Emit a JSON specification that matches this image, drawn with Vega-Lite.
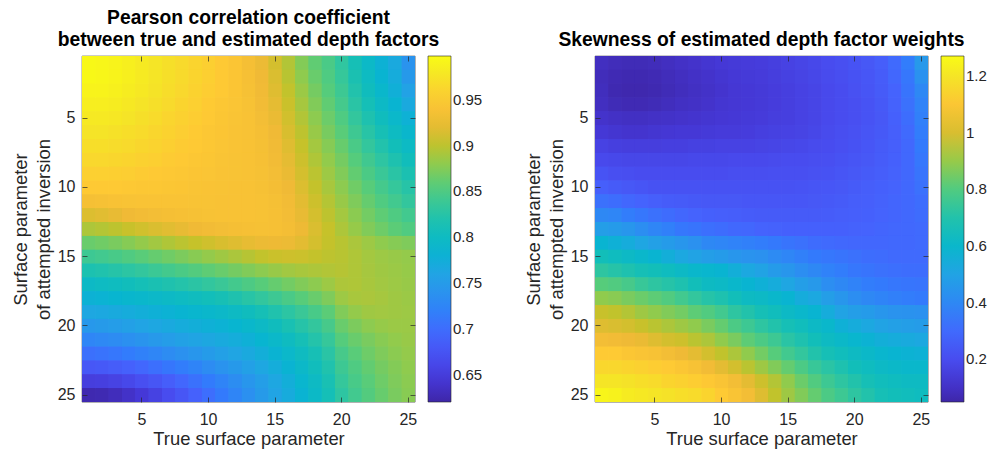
{
"$schema":"https://vega.github.io/schema/vega-lite/v6.json",
"autosize":{"type":"none"},
"padding":{"left":82,"top":56,"right":911,"bottom":394},
"bounds":"flush",
"spacing":180,
"resolve":{"scale":{"color":"independent"},"legend":{"color":"independent"}},
"config":{
"font":"Liberation Sans",
"view":{"stroke":"#262626","strokeWidth":0.6},
"axis":{"labelFont":"Liberation Sans","labelFontSize":16,"labelColor":"#262626","titleFont":"Liberation Sans","titleFontSize":18.4,"titleFontWeight":"normal","titleColor":"#262626","titleLineHeight":23,"grid":false,"domain":false,"tickColor":"#262626","tickSize":-5,"tickWidth":0.7},
"legend":{"labelFont":"Liberation Sans","labelFontSize":15,"labelColor":"#262626","labelOffset":6,"gradientLength":346,"gradientThickness":23,"gradientStrokeColor":"#262626","gradientStrokeWidth":0.6,"offset":12,"padding":0,"labelOverlap":false},
"title":{"font":"Liberation Sans","fontSize":19.3,"fontWeight":"bold","color":"#000000","lineHeight":22.5,"offset":5,"anchor":"middle","frame":"group"}
},
"hconcat":[
{
"width":333,"height":346,
"data":{"name":"pc"},
"title":{"text":["Pearson correlation coefficient","between true and estimated depth factors"]},
"layer":[
{"mark":{"type":"rect"},
"encoding":{
"x":{"field":"x","type":"ordinal","scale":{"paddingInner":0,"paddingOuter":0},"axis":{"values":[5,10,15,20,25],"labelAngle":0,"title":"True surface parameter","labelPadding":14,"titlePadding":2}},
"y":{"field":"y","type":"ordinal","scale":{"paddingInner":0,"paddingOuter":0},"axis":{"values":[5,10,15,20,25],"title":["Surface parameter","of attempted inversion"],"labelPadding":12,"titlePadding":4}},
"color":{"field":"v","type":"quantitative","scale":{"domain":[0.62,0.643625,0.66725,0.690875,0.7145,0.738125,0.76175,0.785375,0.809,0.832625,0.85625,0.879875,0.9035,0.927125,0.95075,0.974375,0.998],"range":["#3E26A8","#4537D5","#484DF0","#4563FD","#327CFC","#2B91EF","#20A5E3","#08B5D0","#12BEB9","#31C69F","#57CC7A","#8FCB4E","#C5C22A","#F0BA36","#FEC934","#F5E327","#F9FB15"],"interpolate":"rgb"},"legend":{"title":null,"type":"gradient","values":[0.65,0.7,0.75,0.8,0.85,0.9,0.95],"format":"~g","direction":"vertical","orient":"right"}}
}},
{"mark":{"type":"rect"},
"encoding":{
"x":{"field":"x","type":"ordinal","axis":{"values":[5,10,15,20,25],"labels":false,"title":null}},
"y":{"field":"y","type":"ordinal","axis":{"values":[5,10,15,20,25],"labels":false,"title":null}},
"color":{"field":"v","type":"quantitative","legend":{"title":null,"type":"gradient","values":[0.65,0.7,0.75,0.8,0.85,0.9,0.95],"format":"~g","direction":"vertical","orient":"right"}}
}},
{"mark":{"type":"rect"},
"encoding":{
"x":{"field":"x","type":"ordinal","axis":null},
"y":{"field":"y","type":"ordinal","axis":null},
"color":{"field":"v","type":"quantitative","legend":{"title":null,"type":"gradient","values":[0.65,0.7,0.75,0.8,0.85,0.9,0.95],"format":"~g","direction":"vertical","orient":"right"}}
}}
],
"resolve":{"axis":{"x":"independent","y":"independent"}}
},
{
"width":333,"height":346,
"data":{"name":"sk"},
"title":{"text":"Skewness of estimated depth factor weights"},
"layer":[
{"mark":{"type":"rect"},
"encoding":{
"x":{"field":"x","type":"ordinal","scale":{"paddingInner":0,"paddingOuter":0},"axis":{"values":[5,10,15,20,25],"labelAngle":0,"title":"True surface parameter","labelPadding":14,"titlePadding":2}},
"y":{"field":"y","type":"ordinal","scale":{"paddingInner":0,"paddingOuter":0},"axis":{"values":[5,10,15,20,25],"title":["Surface parameter","of attempted inversion"],"labelPadding":12,"titlePadding":4}},
"color":{"field":"v","type":"quantitative","scale":{"domain":[0.05,0.12625,0.2025,0.27875,0.355,0.43125,0.5075,0.58375,0.66,0.73625,0.8125,0.88875,0.965,1.04125,1.1175,1.19375,1.27],"range":["#3E26A8","#4537D5","#484DF0","#4563FD","#327CFC","#2B91EF","#20A5E3","#08B5D0","#12BEB9","#31C69F","#57CC7A","#8FCB4E","#C5C22A","#F0BA36","#FEC934","#F5E327","#F9FB15"],"interpolate":"rgb"},"legend":{"title":null,"type":"gradient","values":[0.2,0.4,0.6,0.8,1,1.2],"format":"~g","direction":"vertical","orient":"right"}}
}},
{"mark":{"type":"rect"},
"encoding":{
"x":{"field":"x","type":"ordinal","axis":{"values":[5,10,15,20,25],"labels":false,"title":null}},
"y":{"field":"y","type":"ordinal","axis":{"values":[5,10,15,20,25],"labels":false,"title":null}},
"color":{"field":"v","type":"quantitative","legend":{"title":null,"type":"gradient","values":[0.2,0.4,0.6,0.8,1,1.2],"format":"~g","direction":"vertical","orient":"right"}}
}},
{"mark":{"type":"rect"},
"encoding":{
"x":{"field":"x","type":"ordinal","axis":null},
"y":{"field":"y","type":"ordinal","axis":null},
"color":{"field":"v","type":"quantitative","legend":{"title":null,"type":"gradient","values":[0.2,0.4,0.6,0.8,1,1.2],"format":"~g","direction":"vertical","orient":"right"}}
}}
],
"resolve":{"axis":{"x":"independent","y":"independent"}}
}
],
"datasets":{
"pc":[
{"x":1,"y":1,"v":0.995},{"x":2,"y":1,"v":0.993},{"x":3,"y":1,"v":0.99},{"x":4,"y":1,"v":0.986},{"x":5,"y":1,"v":0.981},{"x":6,"y":1,"v":0.976},{"x":7,"y":1,"v":0.971},{"x":8,"y":1,"v":0.966},{"x":9,"y":1,"v":0.961},{"x":10,"y":1,"v":0.956},{"x":11,"y":1,"v":0.951},{"x":12,"y":1,"v":0.945},{"x":13,"y":1,"v":0.935},{"x":14,"y":1,"v":0.925},{"x":15,"y":1,"v":0.912},{"x":16,"y":1,"v":0.895},{"x":17,"y":1,"v":0.875},{"x":18,"y":1,"v":0.86},{"x":19,"y":1,"v":0.848},{"x":20,"y":1,"v":0.832},{"x":21,"y":1,"v":0.812},{"x":22,"y":1,"v":0.795},{"x":23,"y":1,"v":0.78},{"x":24,"y":1,"v":0.768},{"x":25,"y":1,"v":0.74},
{"x":1,"y":2,"v":0.995},{"x":2,"y":2,"v":0.993},{"x":3,"y":2,"v":0.99},{"x":4,"y":2,"v":0.986},{"x":5,"y":2,"v":0.981},{"x":6,"y":2,"v":0.976},{"x":7,"y":2,"v":0.971},{"x":8,"y":2,"v":0.966},{"x":9,"y":2,"v":0.961},{"x":10,"y":2,"v":0.956},{"x":11,"y":2,"v":0.951},{"x":12,"y":2,"v":0.945},{"x":13,"y":2,"v":0.937},{"x":14,"y":2,"v":0.927},{"x":15,"y":2,"v":0.915},{"x":16,"y":2,"v":0.898},{"x":17,"y":2,"v":0.88},{"x":18,"y":2,"v":0.864},{"x":19,"y":2,"v":0.851},{"x":20,"y":2,"v":0.836},{"x":21,"y":2,"v":0.816},{"x":22,"y":2,"v":0.8},{"x":23,"y":2,"v":0.784},{"x":24,"y":2,"v":0.772},{"x":25,"y":2,"v":0.748},
{"x":1,"y":3,"v":0.99},{"x":2,"y":3,"v":0.99},{"x":3,"y":3,"v":0.987},{"x":4,"y":3,"v":0.983},{"x":5,"y":3,"v":0.979},{"x":6,"y":3,"v":0.974},{"x":7,"y":3,"v":0.969},{"x":8,"y":3,"v":0.964},{"x":9,"y":3,"v":0.959},{"x":10,"y":3,"v":0.954},{"x":11,"y":3,"v":0.95},{"x":12,"y":3,"v":0.945},{"x":13,"y":3,"v":0.938},{"x":14,"y":3,"v":0.929},{"x":15,"y":3,"v":0.918},{"x":16,"y":3,"v":0.902},{"x":17,"y":3,"v":0.885},{"x":18,"y":3,"v":0.869},{"x":19,"y":3,"v":0.855},{"x":20,"y":3,"v":0.84},{"x":21,"y":3,"v":0.821},{"x":22,"y":3,"v":0.805},{"x":23,"y":3,"v":0.79},{"x":24,"y":3,"v":0.777},{"x":25,"y":3,"v":0.758},
{"x":1,"y":4,"v":0.985},{"x":2,"y":4,"v":0.985},{"x":3,"y":4,"v":0.983},{"x":4,"y":4,"v":0.979},{"x":5,"y":4,"v":0.975},{"x":6,"y":4,"v":0.971},{"x":7,"y":4,"v":0.966},{"x":8,"y":4,"v":0.961},{"x":9,"y":4,"v":0.957},{"x":10,"y":4,"v":0.952},{"x":11,"y":4,"v":0.948},{"x":12,"y":4,"v":0.944},{"x":13,"y":4,"v":0.939},{"x":14,"y":4,"v":0.931},{"x":15,"y":4,"v":0.921},{"x":16,"y":4,"v":0.906},{"x":17,"y":4,"v":0.89},{"x":18,"y":4,"v":0.874},{"x":19,"y":4,"v":0.86},{"x":20,"y":4,"v":0.845},{"x":21,"y":4,"v":0.827},{"x":22,"y":4,"v":0.811},{"x":23,"y":4,"v":0.797},{"x":24,"y":4,"v":0.784},{"x":25,"y":4,"v":0.768},
{"x":1,"y":5,"v":0.98},{"x":2,"y":5,"v":0.98},{"x":3,"y":5,"v":0.978},{"x":4,"y":5,"v":0.975},{"x":5,"y":5,"v":0.971},{"x":6,"y":5,"v":0.967},{"x":7,"y":5,"v":0.962},{"x":8,"y":5,"v":0.958},{"x":9,"y":5,"v":0.954},{"x":10,"y":5,"v":0.95},{"x":11,"y":5,"v":0.946},{"x":12,"y":5,"v":0.943},{"x":13,"y":5,"v":0.94},{"x":14,"y":5,"v":0.933},{"x":15,"y":5,"v":0.924},{"x":16,"y":5,"v":0.91},{"x":17,"y":5,"v":0.895},{"x":18,"y":5,"v":0.879},{"x":19,"y":5,"v":0.865},{"x":20,"y":5,"v":0.851},{"x":21,"y":5,"v":0.834},{"x":22,"y":5,"v":0.818},{"x":23,"y":5,"v":0.805},{"x":24,"y":5,"v":0.792},{"x":25,"y":5,"v":0.779},
{"x":1,"y":6,"v":0.975},{"x":2,"y":6,"v":0.975},{"x":3,"y":6,"v":0.973},{"x":4,"y":6,"v":0.97},{"x":5,"y":6,"v":0.967},{"x":6,"y":6,"v":0.963},{"x":7,"y":6,"v":0.959},{"x":8,"y":6,"v":0.955},{"x":9,"y":6,"v":0.952},{"x":10,"y":6,"v":0.948},{"x":11,"y":6,"v":0.945},{"x":12,"y":6,"v":0.942},{"x":13,"y":6,"v":0.94},{"x":14,"y":6,"v":0.935},{"x":15,"y":6,"v":0.927},{"x":16,"y":6,"v":0.914},{"x":17,"y":6,"v":0.9},{"x":18,"y":6,"v":0.884},{"x":19,"y":6,"v":0.87},{"x":20,"y":6,"v":0.857},{"x":21,"y":6,"v":0.841},{"x":22,"y":6,"v":0.826},{"x":23,"y":6,"v":0.813},{"x":24,"y":6,"v":0.8},{"x":25,"y":6,"v":0.789},
{"x":1,"y":7,"v":0.97},{"x":2,"y":7,"v":0.97},{"x":3,"y":7,"v":0.968},{"x":4,"y":7,"v":0.966},{"x":5,"y":7,"v":0.963},{"x":6,"y":7,"v":0.96},{"x":7,"y":7,"v":0.956},{"x":8,"y":7,"v":0.953},{"x":9,"y":7,"v":0.95},{"x":10,"y":7,"v":0.947},{"x":11,"y":7,"v":0.944},{"x":12,"y":7,"v":0.942},{"x":13,"y":7,"v":0.94},{"x":14,"y":7,"v":0.936},{"x":15,"y":7,"v":0.929},{"x":16,"y":7,"v":0.918},{"x":17,"y":7,"v":0.904},{"x":18,"y":7,"v":0.889},{"x":19,"y":7,"v":0.876},{"x":20,"y":7,"v":0.863},{"x":21,"y":7,"v":0.848},{"x":22,"y":7,"v":0.834},{"x":23,"y":7,"v":0.821},{"x":24,"y":7,"v":0.809},{"x":25,"y":7,"v":0.798},
{"x":1,"y":8,"v":0.964},{"x":2,"y":8,"v":0.964},{"x":3,"y":8,"v":0.963},{"x":4,"y":8,"v":0.961},{"x":5,"y":8,"v":0.958},{"x":6,"y":8,"v":0.956},{"x":7,"y":8,"v":0.953},{"x":8,"y":8,"v":0.95},{"x":9,"y":8,"v":0.948},{"x":10,"y":8,"v":0.946},{"x":11,"y":8,"v":0.943},{"x":12,"y":8,"v":0.941},{"x":13,"y":8,"v":0.94},{"x":14,"y":8,"v":0.937},{"x":15,"y":8,"v":0.931},{"x":16,"y":8,"v":0.921},{"x":17,"y":8,"v":0.908},{"x":18,"y":8,"v":0.894},{"x":19,"y":8,"v":0.881},{"x":20,"y":8,"v":0.869},{"x":21,"y":8,"v":0.855},{"x":22,"y":8,"v":0.842},{"x":23,"y":8,"v":0.83},{"x":24,"y":8,"v":0.818},{"x":25,"y":8,"v":0.807},
{"x":1,"y":9,"v":0.957},{"x":2,"y":9,"v":0.957},{"x":3,"y":9,"v":0.956},{"x":4,"y":9,"v":0.955},{"x":5,"y":9,"v":0.953},{"x":6,"y":9,"v":0.951},{"x":7,"y":9,"v":0.949},{"x":8,"y":9,"v":0.947},{"x":9,"y":9,"v":0.945},{"x":10,"y":9,"v":0.944},{"x":11,"y":9,"v":0.942},{"x":12,"y":9,"v":0.941},{"x":13,"y":9,"v":0.94},{"x":14,"y":9,"v":0.938},{"x":15,"y":9,"v":0.933},{"x":16,"y":9,"v":0.924},{"x":17,"y":9,"v":0.912},{"x":18,"y":9,"v":0.899},{"x":19,"y":9,"v":0.886},{"x":20,"y":9,"v":0.874},{"x":21,"y":9,"v":0.861},{"x":22,"y":9,"v":0.849},{"x":23,"y":9,"v":0.838},{"x":24,"y":9,"v":0.827},{"x":25,"y":9,"v":0.816},
{"x":1,"y":10,"v":0.95},{"x":2,"y":10,"v":0.95},{"x":3,"y":10,"v":0.95},{"x":4,"y":10,"v":0.949},{"x":5,"y":10,"v":0.948},{"x":6,"y":10,"v":0.947},{"x":7,"y":10,"v":0.946},{"x":8,"y":10,"v":0.945},{"x":9,"y":10,"v":0.943},{"x":10,"y":10,"v":0.942},{"x":11,"y":10,"v":0.941},{"x":12,"y":10,"v":0.94},{"x":13,"y":10,"v":0.94},{"x":14,"y":10,"v":0.938},{"x":15,"y":10,"v":0.934},{"x":16,"y":10,"v":0.927},{"x":17,"y":10,"v":0.916},{"x":18,"y":10,"v":0.903},{"x":19,"y":10,"v":0.891},{"x":20,"y":10,"v":0.879},{"x":21,"y":10,"v":0.867},{"x":22,"y":10,"v":0.856},{"x":23,"y":10,"v":0.845},{"x":24,"y":10,"v":0.835},{"x":25,"y":10,"v":0.825},
{"x":1,"y":11,"v":0.936},{"x":2,"y":11,"v":0.938},{"x":3,"y":11,"v":0.94},{"x":4,"y":11,"v":0.941},{"x":5,"y":11,"v":0.942},{"x":6,"y":11,"v":0.942},{"x":7,"y":11,"v":0.942},{"x":8,"y":11,"v":0.942},{"x":9,"y":11,"v":0.941},{"x":10,"y":11,"v":0.941},{"x":11,"y":11,"v":0.94},{"x":12,"y":11,"v":0.94},{"x":13,"y":11,"v":0.94},{"x":14,"y":11,"v":0.939},{"x":15,"y":11,"v":0.936},{"x":16,"y":11,"v":0.93},{"x":17,"y":11,"v":0.92},{"x":18,"y":11,"v":0.908},{"x":19,"y":11,"v":0.896},{"x":20,"y":11,"v":0.884},{"x":21,"y":11,"v":0.873},{"x":22,"y":11,"v":0.862},{"x":23,"y":11,"v":0.852},{"x":24,"y":11,"v":0.843},{"x":25,"y":11,"v":0.834},
{"x":1,"y":12,"v":0.916},{"x":2,"y":12,"v":0.919},{"x":3,"y":12,"v":0.923},{"x":4,"y":12,"v":0.927},{"x":5,"y":12,"v":0.93},{"x":6,"y":12,"v":0.933},{"x":7,"y":12,"v":0.935},{"x":8,"y":12,"v":0.937},{"x":9,"y":12,"v":0.938},{"x":10,"y":12,"v":0.939},{"x":11,"y":12,"v":0.94},{"x":12,"y":12,"v":0.94},{"x":13,"y":12,"v":0.94},{"x":14,"y":12,"v":0.939},{"x":15,"y":12,"v":0.937},{"x":16,"y":12,"v":0.932},{"x":17,"y":12,"v":0.923},{"x":18,"y":12,"v":0.912},{"x":19,"y":12,"v":0.9},{"x":20,"y":12,"v":0.889},{"x":21,"y":12,"v":0.878},{"x":22,"y":12,"v":0.868},{"x":23,"y":12,"v":0.859},{"x":24,"y":12,"v":0.851},{"x":25,"y":12,"v":0.843},
{"x":1,"y":13,"v":0.893},{"x":2,"y":13,"v":0.896},{"x":3,"y":13,"v":0.9},{"x":4,"y":13,"v":0.905},{"x":5,"y":13,"v":0.91},{"x":6,"y":13,"v":0.915},{"x":7,"y":13,"v":0.919},{"x":8,"y":13,"v":0.923},{"x":9,"y":13,"v":0.927},{"x":10,"y":13,"v":0.93},{"x":11,"y":13,"v":0.933},{"x":12,"y":13,"v":0.935},{"x":13,"y":13,"v":0.937},{"x":14,"y":13,"v":0.938},{"x":15,"y":13,"v":0.937},{"x":16,"y":13,"v":0.934},{"x":17,"y":13,"v":0.926},{"x":18,"y":13,"v":0.915},{"x":19,"y":13,"v":0.904},{"x":20,"y":13,"v":0.893},{"x":21,"y":13,"v":0.883},{"x":22,"y":13,"v":0.874},{"x":23,"y":13,"v":0.866},{"x":24,"y":13,"v":0.858},{"x":25,"y":13,"v":0.852},
{"x":1,"y":14,"v":0.864},{"x":2,"y":14,"v":0.867},{"x":3,"y":14,"v":0.871},{"x":4,"y":14,"v":0.876},{"x":5,"y":14,"v":0.882},{"x":6,"y":14,"v":0.888},{"x":7,"y":14,"v":0.894},{"x":8,"y":14,"v":0.899},{"x":9,"y":14,"v":0.904},{"x":10,"y":14,"v":0.909},{"x":11,"y":14,"v":0.914},{"x":12,"y":14,"v":0.918},{"x":13,"y":14,"v":0.922},{"x":14,"y":14,"v":0.925},{"x":15,"y":14,"v":0.926},{"x":16,"y":14,"v":0.925},{"x":17,"y":14,"v":0.92},{"x":18,"y":14,"v":0.912},{"x":19,"y":14,"v":0.903},{"x":20,"y":14,"v":0.898},{"x":21,"y":14,"v":0.892},{"x":22,"y":14,"v":0.886},{"x":23,"y":14,"v":0.88},{"x":24,"y":14,"v":0.876},{"x":25,"y":14,"v":0.873},
{"x":1,"y":15,"v":0.84},{"x":2,"y":15,"v":0.843},{"x":3,"y":15,"v":0.847},{"x":4,"y":15,"v":0.852},{"x":5,"y":15,"v":0.857},{"x":6,"y":15,"v":0.862},{"x":7,"y":15,"v":0.867},{"x":8,"y":15,"v":0.872},{"x":9,"y":15,"v":0.877},{"x":10,"y":15,"v":0.882},{"x":11,"y":15,"v":0.887},{"x":12,"y":15,"v":0.892},{"x":13,"y":15,"v":0.897},{"x":14,"y":15,"v":0.902},{"x":15,"y":15,"v":0.906},{"x":16,"y":15,"v":0.908},{"x":17,"y":15,"v":0.907},{"x":18,"y":15,"v":0.903},{"x":19,"y":15,"v":0.9},{"x":20,"y":15,"v":0.898},{"x":21,"y":15,"v":0.894},{"x":22,"y":15,"v":0.889},{"x":23,"y":15,"v":0.886},{"x":24,"y":15,"v":0.884},{"x":25,"y":15,"v":0.882},
{"x":1,"y":16,"v":0.817},{"x":2,"y":16,"v":0.82},{"x":3,"y":16,"v":0.824},{"x":4,"y":16,"v":0.829},{"x":5,"y":16,"v":0.834},{"x":6,"y":16,"v":0.839},{"x":7,"y":16,"v":0.844},{"x":8,"y":16,"v":0.849},{"x":9,"y":16,"v":0.854},{"x":10,"y":16,"v":0.859},{"x":11,"y":16,"v":0.864},{"x":12,"y":16,"v":0.869},{"x":13,"y":16,"v":0.874},{"x":14,"y":16,"v":0.879},{"x":15,"y":16,"v":0.884},{"x":16,"y":16,"v":0.888},{"x":17,"y":16,"v":0.891},{"x":18,"y":16,"v":0.893},{"x":19,"y":16,"v":0.895},{"x":20,"y":16,"v":0.897},{"x":21,"y":16,"v":0.894},{"x":22,"y":16,"v":0.89},{"x":23,"y":16,"v":0.887},{"x":24,"y":16,"v":0.885},{"x":25,"y":16,"v":0.883},
{"x":1,"y":17,"v":0.797},{"x":2,"y":17,"v":0.8},{"x":3,"y":17,"v":0.803},{"x":4,"y":17,"v":0.807},{"x":5,"y":17,"v":0.811},{"x":6,"y":17,"v":0.815},{"x":7,"y":17,"v":0.819},{"x":8,"y":17,"v":0.823},{"x":9,"y":17,"v":0.828},{"x":10,"y":17,"v":0.833},{"x":11,"y":17,"v":0.838},{"x":12,"y":17,"v":0.844},{"x":13,"y":17,"v":0.85},{"x":14,"y":17,"v":0.856},{"x":15,"y":17,"v":0.862},{"x":16,"y":17,"v":0.868},{"x":17,"y":17,"v":0.874},{"x":18,"y":17,"v":0.879},{"x":19,"y":17,"v":0.886},{"x":20,"y":17,"v":0.893},{"x":21,"y":17,"v":0.894},{"x":22,"y":17,"v":0.891},{"x":23,"y":17,"v":0.888},{"x":24,"y":17,"v":0.886},{"x":25,"y":17,"v":0.884},
{"x":1,"y":18,"v":0.78},{"x":2,"y":18,"v":0.782},{"x":3,"y":18,"v":0.785},{"x":4,"y":18,"v":0.788},{"x":5,"y":18,"v":0.791},{"x":6,"y":18,"v":0.794},{"x":7,"y":18,"v":0.797},{"x":8,"y":18,"v":0.8},{"x":9,"y":18,"v":0.804},{"x":10,"y":18,"v":0.808},{"x":11,"y":18,"v":0.813},{"x":12,"y":18,"v":0.819},{"x":13,"y":18,"v":0.826},{"x":14,"y":18,"v":0.833},{"x":15,"y":18,"v":0.84},{"x":16,"y":18,"v":0.848},{"x":17,"y":18,"v":0.856},{"x":18,"y":18,"v":0.864},{"x":19,"y":18,"v":0.873},{"x":20,"y":18,"v":0.886},{"x":21,"y":18,"v":0.891},{"x":22,"y":18,"v":0.892},{"x":23,"y":18,"v":0.89},{"x":24,"y":18,"v":0.887},{"x":25,"y":18,"v":0.885},
{"x":1,"y":19,"v":0.764},{"x":2,"y":19,"v":0.766},{"x":3,"y":19,"v":0.769},{"x":4,"y":19,"v":0.772},{"x":5,"y":19,"v":0.775},{"x":6,"y":19,"v":0.778},{"x":7,"y":19,"v":0.781},{"x":8,"y":19,"v":0.784},{"x":9,"y":19,"v":0.787},{"x":10,"y":19,"v":0.79},{"x":11,"y":19,"v":0.794},{"x":12,"y":19,"v":0.799},{"x":13,"y":19,"v":0.805},{"x":14,"y":19,"v":0.812},{"x":15,"y":19,"v":0.82},{"x":16,"y":19,"v":0.829},{"x":17,"y":19,"v":0.838},{"x":18,"y":19,"v":0.847},{"x":19,"y":19,"v":0.858},{"x":20,"y":19,"v":0.874},{"x":21,"y":19,"v":0.882},{"x":22,"y":19,"v":0.887},{"x":23,"y":19,"v":0.888},{"x":24,"y":19,"v":0.887},{"x":25,"y":19,"v":0.886},
{"x":1,"y":20,"v":0.746},{"x":2,"y":20,"v":0.749},{"x":3,"y":20,"v":0.752},{"x":4,"y":20,"v":0.756},{"x":5,"y":20,"v":0.76},{"x":6,"y":20,"v":0.764},{"x":7,"y":20,"v":0.768},{"x":8,"y":20,"v":0.772},{"x":9,"y":20,"v":0.775},{"x":10,"y":20,"v":0.778},{"x":11,"y":20,"v":0.781},{"x":12,"y":20,"v":0.785},{"x":13,"y":20,"v":0.79},{"x":14,"y":20,"v":0.797},{"x":15,"y":20,"v":0.805},{"x":16,"y":20,"v":0.814},{"x":17,"y":20,"v":0.824},{"x":18,"y":20,"v":0.834},{"x":19,"y":20,"v":0.846},{"x":20,"y":20,"v":0.864},{"x":21,"y":20,"v":0.872},{"x":22,"y":20,"v":0.879},{"x":23,"y":20,"v":0.883},{"x":24,"y":20,"v":0.885},{"x":25,"y":20,"v":0.885},
{"x":1,"y":21,"v":0.726},{"x":2,"y":21,"v":0.729},{"x":3,"y":21,"v":0.733},{"x":4,"y":21,"v":0.737},{"x":5,"y":21,"v":0.742},{"x":6,"y":21,"v":0.747},{"x":7,"y":21,"v":0.752},{"x":8,"y":21,"v":0.757},{"x":9,"y":21,"v":0.761},{"x":10,"y":21,"v":0.765},{"x":11,"y":21,"v":0.769},{"x":12,"y":21,"v":0.773},{"x":13,"y":21,"v":0.778},{"x":14,"y":21,"v":0.785},{"x":15,"y":21,"v":0.793},{"x":16,"y":21,"v":0.802},{"x":17,"y":21,"v":0.812},{"x":18,"y":21,"v":0.823},{"x":19,"y":21,"v":0.836},{"x":20,"y":21,"v":0.855},{"x":21,"y":21,"v":0.864},{"x":22,"y":21,"v":0.871},{"x":23,"y":21,"v":0.877},{"x":24,"y":21,"v":0.881},{"x":25,"y":21,"v":0.884},
{"x":1,"y":22,"v":0.703},{"x":2,"y":22,"v":0.706},{"x":3,"y":22,"v":0.71},{"x":4,"y":22,"v":0.715},{"x":5,"y":22,"v":0.72},{"x":6,"y":22,"v":0.726},{"x":7,"y":22,"v":0.732},{"x":8,"y":22,"v":0.738},{"x":9,"y":22,"v":0.744},{"x":10,"y":22,"v":0.75},{"x":11,"y":22,"v":0.756},{"x":12,"y":22,"v":0.762},{"x":13,"y":22,"v":0.768},{"x":14,"y":22,"v":0.775},{"x":15,"y":22,"v":0.783},{"x":16,"y":22,"v":0.792},{"x":17,"y":22,"v":0.802},{"x":18,"y":22,"v":0.813},{"x":19,"y":22,"v":0.827},{"x":20,"y":22,"v":0.846},{"x":21,"y":22,"v":0.857},{"x":22,"y":22,"v":0.866},{"x":23,"y":22,"v":0.873},{"x":24,"y":22,"v":0.878},{"x":25,"y":22,"v":0.882},
{"x":1,"y":23,"v":0.678},{"x":2,"y":23,"v":0.68},{"x":3,"y":23,"v":0.684},{"x":4,"y":23,"v":0.689},{"x":5,"y":23,"v":0.695},{"x":6,"y":23,"v":0.702},{"x":7,"y":23,"v":0.709},{"x":8,"y":23,"v":0.716},{"x":9,"y":23,"v":0.724},{"x":10,"y":23,"v":0.732},{"x":11,"y":23,"v":0.74},{"x":12,"y":23,"v":0.748},{"x":13,"y":23,"v":0.756},{"x":14,"y":23,"v":0.764},{"x":15,"y":23,"v":0.773},{"x":16,"y":23,"v":0.783},{"x":17,"y":23,"v":0.794},{"x":18,"y":23,"v":0.806},{"x":19,"y":23,"v":0.82},{"x":20,"y":23,"v":0.84},{"x":21,"y":23,"v":0.851},{"x":22,"y":23,"v":0.861},{"x":23,"y":23,"v":0.869},{"x":24,"y":23,"v":0.875},{"x":25,"y":23,"v":0.88},
{"x":1,"y":24,"v":0.651},{"x":2,"y":24,"v":0.652},{"x":3,"y":24,"v":0.656},{"x":4,"y":24,"v":0.662},{"x":5,"y":24,"v":0.669},{"x":6,"y":24,"v":0.677},{"x":7,"y":24,"v":0.686},{"x":8,"y":24,"v":0.695},{"x":9,"y":24,"v":0.704},{"x":10,"y":24,"v":0.714},{"x":11,"y":24,"v":0.724},{"x":12,"y":24,"v":0.734},{"x":13,"y":24,"v":0.744},{"x":14,"y":24,"v":0.754},{"x":15,"y":24,"v":0.764},{"x":16,"y":24,"v":0.775},{"x":17,"y":24,"v":0.787},{"x":18,"y":24,"v":0.799},{"x":19,"y":24,"v":0.814},{"x":20,"y":24,"v":0.835},{"x":21,"y":24,"v":0.847},{"x":22,"y":24,"v":0.857},{"x":23,"y":24,"v":0.866},{"x":24,"y":24,"v":0.873},{"x":25,"y":24,"v":0.878},
{"x":1,"y":25,"v":0.624},{"x":2,"y":25,"v":0.625},{"x":3,"y":25,"v":0.63},{"x":4,"y":25,"v":0.637},{"x":5,"y":25,"v":0.645},{"x":6,"y":25,"v":0.655},{"x":7,"y":25,"v":0.666},{"x":8,"y":25,"v":0.677},{"x":9,"y":25,"v":0.689},{"x":10,"y":25,"v":0.701},{"x":11,"y":25,"v":0.713},{"x":12,"y":25,"v":0.725},{"x":13,"y":25,"v":0.737},{"x":14,"y":25,"v":0.749},{"x":15,"y":25,"v":0.76},{"x":16,"y":25,"v":0.771},{"x":17,"y":25,"v":0.783},{"x":18,"y":25,"v":0.796},{"x":19,"y":25,"v":0.811},{"x":20,"y":25,"v":0.83},{"x":21,"y":25,"v":0.843},{"x":22,"y":25,"v":0.854},{"x":23,"y":25,"v":0.863},{"x":24,"y":25,"v":0.871},{"x":25,"y":25,"v":0.877}
],
"sk":[
{"x":1,"y":1,"v":0.09},{"x":2,"y":1,"v":0.08},{"x":3,"y":1,"v":0.075},{"x":4,"y":1,"v":0.075},{"x":5,"y":1,"v":0.08},{"x":6,"y":1,"v":0.09},{"x":7,"y":1,"v":0.1},{"x":8,"y":1,"v":0.11},{"x":9,"y":1,"v":0.12},{"x":10,"y":1,"v":0.13},{"x":11,"y":1,"v":0.135},{"x":12,"y":1,"v":0.14},{"x":13,"y":1,"v":0.145},{"x":14,"y":1,"v":0.155},{"x":15,"y":1,"v":0.165},{"x":16,"y":1,"v":0.175},{"x":17,"y":1,"v":0.185},{"x":18,"y":1,"v":0.2},{"x":19,"y":1,"v":0.21},{"x":20,"y":1,"v":0.225},{"x":21,"y":1,"v":0.24},{"x":22,"y":1,"v":0.26},{"x":23,"y":1,"v":0.3},{"x":24,"y":1,"v":0.36},{"x":25,"y":1,"v":0.46},
{"x":1,"y":2,"v":0.08},{"x":2,"y":2,"v":0.07},{"x":3,"y":2,"v":0.065},{"x":4,"y":2,"v":0.065},{"x":5,"y":2,"v":0.07},{"x":6,"y":2,"v":0.08},{"x":7,"y":2,"v":0.09},{"x":8,"y":2,"v":0.1},{"x":9,"y":2,"v":0.11},{"x":10,"y":2,"v":0.12},{"x":11,"y":2,"v":0.13},{"x":12,"y":2,"v":0.135},{"x":13,"y":2,"v":0.14},{"x":14,"y":2,"v":0.15},{"x":15,"y":2,"v":0.16},{"x":16,"y":2,"v":0.17},{"x":17,"y":2,"v":0.18},{"x":18,"y":2,"v":0.195},{"x":19,"y":2,"v":0.205},{"x":20,"y":2,"v":0.22},{"x":21,"y":2,"v":0.235},{"x":22,"y":2,"v":0.255},{"x":23,"y":2,"v":0.29},{"x":24,"y":2,"v":0.34},{"x":25,"y":2,"v":0.43},
{"x":1,"y":3,"v":0.085},{"x":2,"y":3,"v":0.065},{"x":3,"y":3,"v":0.06},{"x":4,"y":3,"v":0.06},{"x":5,"y":3,"v":0.065},{"x":6,"y":3,"v":0.075},{"x":7,"y":3,"v":0.085},{"x":8,"y":3,"v":0.095},{"x":9,"y":3,"v":0.105},{"x":10,"y":3,"v":0.115},{"x":11,"y":3,"v":0.125},{"x":12,"y":3,"v":0.13},{"x":13,"y":3,"v":0.135},{"x":14,"y":3,"v":0.145},{"x":15,"y":3,"v":0.155},{"x":16,"y":3,"v":0.165},{"x":17,"y":3,"v":0.175},{"x":18,"y":3,"v":0.19},{"x":19,"y":3,"v":0.2},{"x":20,"y":3,"v":0.215},{"x":21,"y":3,"v":0.23},{"x":22,"y":3,"v":0.25},{"x":23,"y":3,"v":0.28},{"x":24,"y":3,"v":0.33},{"x":25,"y":3,"v":0.4},
{"x":1,"y":4,"v":0.09},{"x":2,"y":4,"v":0.075},{"x":3,"y":4,"v":0.07},{"x":4,"y":4,"v":0.07},{"x":5,"y":4,"v":0.075},{"x":6,"y":4,"v":0.085},{"x":7,"y":4,"v":0.095},{"x":8,"y":4,"v":0.1},{"x":9,"y":4,"v":0.11},{"x":10,"y":4,"v":0.12},{"x":11,"y":4,"v":0.125},{"x":12,"y":4,"v":0.13},{"x":13,"y":4,"v":0.135},{"x":14,"y":4,"v":0.145},{"x":15,"y":4,"v":0.155},{"x":16,"y":4,"v":0.165},{"x":17,"y":4,"v":0.175},{"x":18,"y":4,"v":0.19},{"x":19,"y":4,"v":0.2},{"x":20,"y":4,"v":0.21},{"x":21,"y":4,"v":0.225},{"x":22,"y":4,"v":0.245},{"x":23,"y":4,"v":0.275},{"x":24,"y":4,"v":0.32},{"x":25,"y":4,"v":0.38},
{"x":1,"y":5,"v":0.11},{"x":2,"y":5,"v":0.1},{"x":3,"y":5,"v":0.095},{"x":4,"y":5,"v":0.095},{"x":5,"y":5,"v":0.1},{"x":6,"y":5,"v":0.105},{"x":7,"y":5,"v":0.11},{"x":8,"y":5,"v":0.115},{"x":9,"y":5,"v":0.12},{"x":10,"y":5,"v":0.125},{"x":11,"y":5,"v":0.13},{"x":12,"y":5,"v":0.135},{"x":13,"y":5,"v":0.14},{"x":14,"y":5,"v":0.15},{"x":15,"y":5,"v":0.155},{"x":16,"y":5,"v":0.165},{"x":17,"y":5,"v":0.175},{"x":18,"y":5,"v":0.19},{"x":19,"y":5,"v":0.2},{"x":20,"y":5,"v":0.21},{"x":21,"y":5,"v":0.225},{"x":22,"y":5,"v":0.24},{"x":23,"y":5,"v":0.27},{"x":24,"y":5,"v":0.31},{"x":25,"y":5,"v":0.37},
{"x":1,"y":6,"v":0.13},{"x":2,"y":6,"v":0.12},{"x":3,"y":6,"v":0.115},{"x":4,"y":6,"v":0.115},{"x":5,"y":6,"v":0.12},{"x":6,"y":6,"v":0.125},{"x":7,"y":6,"v":0.13},{"x":8,"y":6,"v":0.13},{"x":9,"y":6,"v":0.135},{"x":10,"y":6,"v":0.14},{"x":11,"y":6,"v":0.14},{"x":12,"y":6,"v":0.145},{"x":13,"y":6,"v":0.155},{"x":14,"y":6,"v":0.16},{"x":15,"y":6,"v":0.165},{"x":16,"y":6,"v":0.17},{"x":17,"y":6,"v":0.18},{"x":18,"y":6,"v":0.195},{"x":19,"y":6,"v":0.205},{"x":20,"y":6,"v":0.215},{"x":21,"y":6,"v":0.23},{"x":22,"y":6,"v":0.245},{"x":23,"y":6,"v":0.265},{"x":24,"y":6,"v":0.3},{"x":25,"y":6,"v":0.36},
{"x":1,"y":7,"v":0.165},{"x":2,"y":7,"v":0.155},{"x":3,"y":7,"v":0.15},{"x":4,"y":7,"v":0.15},{"x":5,"y":7,"v":0.15},{"x":6,"y":7,"v":0.155},{"x":7,"y":7,"v":0.155},{"x":8,"y":7,"v":0.16},{"x":9,"y":7,"v":0.16},{"x":10,"y":7,"v":0.165},{"x":11,"y":7,"v":0.165},{"x":12,"y":7,"v":0.165},{"x":13,"y":7,"v":0.17},{"x":14,"y":7,"v":0.175},{"x":15,"y":7,"v":0.18},{"x":16,"y":7,"v":0.185},{"x":17,"y":7,"v":0.195},{"x":18,"y":7,"v":0.2},{"x":19,"y":7,"v":0.21},{"x":20,"y":7,"v":0.22},{"x":21,"y":7,"v":0.235},{"x":22,"y":7,"v":0.25},{"x":23,"y":7,"v":0.265},{"x":24,"y":7,"v":0.295},{"x":25,"y":7,"v":0.35},
{"x":1,"y":8,"v":0.19},{"x":2,"y":8,"v":0.185},{"x":3,"y":8,"v":0.18},{"x":4,"y":8,"v":0.18},{"x":5,"y":8,"v":0.18},{"x":6,"y":8,"v":0.18},{"x":7,"y":8,"v":0.18},{"x":8,"y":8,"v":0.185},{"x":9,"y":8,"v":0.185},{"x":10,"y":8,"v":0.185},{"x":11,"y":8,"v":0.19},{"x":12,"y":8,"v":0.19},{"x":13,"y":8,"v":0.19},{"x":14,"y":8,"v":0.195},{"x":15,"y":8,"v":0.2},{"x":16,"y":8,"v":0.2},{"x":17,"y":8,"v":0.205},{"x":18,"y":8,"v":0.21},{"x":19,"y":8,"v":0.22},{"x":20,"y":8,"v":0.23},{"x":21,"y":8,"v":0.24},{"x":22,"y":8,"v":0.255},{"x":23,"y":8,"v":0.27},{"x":24,"y":8,"v":0.295},{"x":25,"y":8,"v":0.34},
{"x":1,"y":9,"v":0.225},{"x":2,"y":9,"v":0.21},{"x":3,"y":9,"v":0.205},{"x":4,"y":9,"v":0.2},{"x":5,"y":9,"v":0.2},{"x":6,"y":9,"v":0.2},{"x":7,"y":9,"v":0.2},{"x":8,"y":9,"v":0.2},{"x":9,"y":9,"v":0.2},{"x":10,"y":9,"v":0.2},{"x":11,"y":9,"v":0.205},{"x":12,"y":9,"v":0.205},{"x":13,"y":9,"v":0.205},{"x":14,"y":9,"v":0.21},{"x":15,"y":9,"v":0.21},{"x":16,"y":9,"v":0.21},{"x":17,"y":9,"v":0.215},{"x":18,"y":9,"v":0.22},{"x":19,"y":9,"v":0.23},{"x":20,"y":9,"v":0.24},{"x":21,"y":9,"v":0.25},{"x":22,"y":9,"v":0.26},{"x":23,"y":9,"v":0.275},{"x":24,"y":9,"v":0.295},{"x":25,"y":9,"v":0.33},
{"x":1,"y":10,"v":0.265},{"x":2,"y":10,"v":0.25},{"x":3,"y":10,"v":0.24},{"x":4,"y":10,"v":0.23},{"x":5,"y":10,"v":0.22},{"x":6,"y":10,"v":0.22},{"x":7,"y":10,"v":0.22},{"x":8,"y":10,"v":0.22},{"x":9,"y":10,"v":0.22},{"x":10,"y":10,"v":0.22},{"x":11,"y":10,"v":0.22},{"x":12,"y":10,"v":0.22},{"x":13,"y":10,"v":0.22},{"x":14,"y":10,"v":0.22},{"x":15,"y":10,"v":0.22},{"x":16,"y":10,"v":0.225},{"x":17,"y":10,"v":0.23},{"x":18,"y":10,"v":0.235},{"x":19,"y":10,"v":0.24},{"x":20,"y":10,"v":0.25},{"x":21,"y":10,"v":0.26},{"x":22,"y":10,"v":0.27},{"x":23,"y":10,"v":0.28},{"x":24,"y":10,"v":0.295},{"x":25,"y":10,"v":0.32},
{"x":1,"y":11,"v":0.32},{"x":2,"y":11,"v":0.31},{"x":3,"y":11,"v":0.29},{"x":4,"y":11,"v":0.28},{"x":5,"y":11,"v":0.265},{"x":6,"y":11,"v":0.255},{"x":7,"y":11,"v":0.25},{"x":8,"y":11,"v":0.245},{"x":9,"y":11,"v":0.24},{"x":10,"y":11,"v":0.24},{"x":11,"y":11,"v":0.24},{"x":12,"y":11,"v":0.235},{"x":13,"y":11,"v":0.235},{"x":14,"y":11,"v":0.235},{"x":15,"y":11,"v":0.235},{"x":16,"y":11,"v":0.235},{"x":17,"y":11,"v":0.24},{"x":18,"y":11,"v":0.245},{"x":19,"y":11,"v":0.25},{"x":20,"y":11,"v":0.26},{"x":21,"y":11,"v":0.265},{"x":22,"y":11,"v":0.275},{"x":23,"y":11,"v":0.285},{"x":24,"y":11,"v":0.295},{"x":25,"y":11,"v":0.31},
{"x":1,"y":12,"v":0.4},{"x":2,"y":12,"v":0.39},{"x":3,"y":12,"v":0.36},{"x":4,"y":12,"v":0.34},{"x":5,"y":12,"v":0.32},{"x":6,"y":12,"v":0.305},{"x":7,"y":12,"v":0.29},{"x":8,"y":12,"v":0.28},{"x":9,"y":12,"v":0.27},{"x":10,"y":12,"v":0.265},{"x":11,"y":12,"v":0.26},{"x":12,"y":12,"v":0.255},{"x":13,"y":12,"v":0.25},{"x":14,"y":12,"v":0.25},{"x":15,"y":12,"v":0.25},{"x":16,"y":12,"v":0.25},{"x":17,"y":12,"v":0.25},{"x":18,"y":12,"v":0.255},{"x":19,"y":12,"v":0.26},{"x":20,"y":12,"v":0.265},{"x":21,"y":12,"v":0.27},{"x":22,"y":12,"v":0.28},{"x":23,"y":12,"v":0.285},{"x":24,"y":12,"v":0.295},{"x":25,"y":12,"v":0.305},
{"x":1,"y":13,"v":0.48},{"x":2,"y":13,"v":0.47},{"x":3,"y":13,"v":0.45},{"x":4,"y":13,"v":0.42},{"x":5,"y":13,"v":0.39},{"x":6,"y":13,"v":0.37},{"x":7,"y":13,"v":0.34},{"x":8,"y":13,"v":0.33},{"x":9,"y":13,"v":0.315},{"x":10,"y":13,"v":0.305},{"x":11,"y":13,"v":0.295},{"x":12,"y":13,"v":0.29},{"x":13,"y":13,"v":0.28},{"x":14,"y":13,"v":0.275},{"x":15,"y":13,"v":0.27},{"x":16,"y":13,"v":0.27},{"x":17,"y":13,"v":0.27},{"x":18,"y":13,"v":0.27},{"x":19,"y":13,"v":0.27},{"x":20,"y":13,"v":0.275},{"x":21,"y":13,"v":0.28},{"x":22,"y":13,"v":0.285},{"x":23,"y":13,"v":0.29},{"x":24,"y":13,"v":0.295},{"x":25,"y":13,"v":0.3},
{"x":1,"y":14,"v":0.58},{"x":2,"y":14,"v":0.56},{"x":3,"y":14,"v":0.54},{"x":4,"y":14,"v":0.51},{"x":5,"y":14,"v":0.49},{"x":6,"y":14,"v":0.47},{"x":7,"y":14,"v":0.45},{"x":8,"y":14,"v":0.43},{"x":9,"y":14,"v":0.4},{"x":10,"y":14,"v":0.39},{"x":11,"y":14,"v":0.38},{"x":12,"y":14,"v":0.37},{"x":13,"y":14,"v":0.36},{"x":14,"y":14,"v":0.345},{"x":15,"y":14,"v":0.33},{"x":16,"y":14,"v":0.32},{"x":17,"y":14,"v":0.305},{"x":18,"y":14,"v":0.3},{"x":19,"y":14,"v":0.295},{"x":20,"y":14,"v":0.29},{"x":21,"y":14,"v":0.29},{"x":22,"y":14,"v":0.29},{"x":23,"y":14,"v":0.295},{"x":24,"y":14,"v":0.295},{"x":25,"y":14,"v":0.3},
{"x":1,"y":15,"v":0.66},{"x":2,"y":15,"v":0.64},{"x":3,"y":15,"v":0.62},{"x":4,"y":15,"v":0.6},{"x":5,"y":15,"v":0.58},{"x":6,"y":15,"v":0.55},{"x":7,"y":15,"v":0.52},{"x":8,"y":15,"v":0.5},{"x":9,"y":15,"v":0.48},{"x":10,"y":15,"v":0.47},{"x":11,"y":15,"v":0.45},{"x":12,"y":15,"v":0.44},{"x":13,"y":15,"v":0.43},{"x":14,"y":15,"v":0.41},{"x":15,"y":15,"v":0.39},{"x":16,"y":15,"v":0.37},{"x":17,"y":15,"v":0.35},{"x":18,"y":15,"v":0.34},{"x":19,"y":15,"v":0.33},{"x":20,"y":15,"v":0.32},{"x":21,"y":15,"v":0.31},{"x":22,"y":15,"v":0.305},{"x":23,"y":15,"v":0.3},{"x":24,"y":15,"v":0.3},{"x":25,"y":15,"v":0.3},
{"x":1,"y":16,"v":0.73},{"x":2,"y":16,"v":0.71},{"x":3,"y":16,"v":0.69},{"x":4,"y":16,"v":0.67},{"x":5,"y":16,"v":0.66},{"x":6,"y":16,"v":0.64},{"x":7,"y":16,"v":0.62},{"x":8,"y":16,"v":0.6},{"x":9,"y":16,"v":0.59},{"x":10,"y":16,"v":0.58},{"x":11,"y":16,"v":0.55},{"x":12,"y":16,"v":0.52},{"x":13,"y":16,"v":0.5},{"x":14,"y":16,"v":0.47},{"x":15,"y":16,"v":0.45},{"x":16,"y":16,"v":0.42},{"x":17,"y":16,"v":0.4},{"x":18,"y":16,"v":0.375},{"x":19,"y":16,"v":0.36},{"x":20,"y":16,"v":0.34},{"x":21,"y":16,"v":0.33},{"x":22,"y":16,"v":0.32},{"x":23,"y":16,"v":0.315},{"x":24,"y":16,"v":0.31},{"x":25,"y":16,"v":0.31},
{"x":1,"y":17,"v":0.81},{"x":2,"y":17,"v":0.8},{"x":3,"y":17,"v":0.78},{"x":4,"y":17,"v":0.75},{"x":5,"y":17,"v":0.73},{"x":6,"y":17,"v":0.71},{"x":7,"y":17,"v":0.69},{"x":8,"y":17,"v":0.66},{"x":9,"y":17,"v":0.63},{"x":10,"y":17,"v":0.62},{"x":11,"y":17,"v":0.6},{"x":12,"y":17,"v":0.58},{"x":13,"y":17,"v":0.56},{"x":14,"y":17,"v":0.54},{"x":15,"y":17,"v":0.51},{"x":16,"y":17,"v":0.48},{"x":17,"y":17,"v":0.46},{"x":18,"y":17,"v":0.42},{"x":19,"y":17,"v":0.4},{"x":20,"y":17,"v":0.38},{"x":21,"y":17,"v":0.36},{"x":22,"y":17,"v":0.35},{"x":23,"y":17,"v":0.34},{"x":24,"y":17,"v":0.335},{"x":25,"y":17,"v":0.33},
{"x":1,"y":18,"v":0.89},{"x":2,"y":18,"v":0.88},{"x":3,"y":18,"v":0.86},{"x":4,"y":18,"v":0.84},{"x":5,"y":18,"v":0.82},{"x":6,"y":18,"v":0.8},{"x":7,"y":18,"v":0.77},{"x":8,"y":18,"v":0.74},{"x":9,"y":18,"v":0.71},{"x":10,"y":18,"v":0.69},{"x":11,"y":18,"v":0.66},{"x":12,"y":18,"v":0.63},{"x":13,"y":18,"v":0.62},{"x":14,"y":18,"v":0.6},{"x":15,"y":18,"v":0.58},{"x":16,"y":18,"v":0.54},{"x":17,"y":18,"v":0.52},{"x":18,"y":18,"v":0.48},{"x":19,"y":18,"v":0.45},{"x":20,"y":18,"v":0.42},{"x":21,"y":18,"v":0.4},{"x":22,"y":18,"v":0.385},{"x":23,"y":18,"v":0.37},{"x":24,"y":18,"v":0.36},{"x":25,"y":18,"v":0.35},
{"x":1,"y":19,"v":0.97},{"x":2,"y":19,"v":0.96},{"x":3,"y":19,"v":0.94},{"x":4,"y":19,"v":0.91},{"x":5,"y":19,"v":0.89},{"x":6,"y":19,"v":0.87},{"x":7,"y":19,"v":0.85},{"x":8,"y":19,"v":0.82},{"x":9,"y":19,"v":0.8},{"x":10,"y":19,"v":0.77},{"x":11,"y":19,"v":0.73},{"x":12,"y":19,"v":0.7},{"x":13,"y":19,"v":0.67},{"x":14,"y":19,"v":0.65},{"x":15,"y":19,"v":0.62},{"x":16,"y":19,"v":0.6},{"x":17,"y":19,"v":0.58},{"x":18,"y":19,"v":0.54},{"x":19,"y":19,"v":0.5},{"x":20,"y":19,"v":0.48},{"x":21,"y":19,"v":0.47},{"x":22,"y":19,"v":0.45},{"x":23,"y":19,"v":0.44},{"x":24,"y":19,"v":0.435},{"x":25,"y":19,"v":0.43},
{"x":1,"y":20,"v":1.01},{"x":2,"y":20,"v":1.0},{"x":3,"y":20,"v":0.99},{"x":4,"y":20,"v":0.97},{"x":5,"y":20,"v":0.95},{"x":6,"y":20,"v":0.93},{"x":7,"y":20,"v":0.91},{"x":8,"y":20,"v":0.89},{"x":9,"y":20,"v":0.86},{"x":10,"y":20,"v":0.83},{"x":11,"y":20,"v":0.79},{"x":12,"y":20,"v":0.76},{"x":13,"y":20,"v":0.73},{"x":14,"y":20,"v":0.7},{"x":15,"y":20,"v":0.67},{"x":16,"y":20,"v":0.65},{"x":17,"y":20,"v":0.62},{"x":18,"y":20,"v":0.6},{"x":19,"y":20,"v":0.56},{"x":20,"y":20,"v":0.54},{"x":21,"y":20,"v":0.52},{"x":22,"y":20,"v":0.5},{"x":23,"y":20,"v":0.49},{"x":24,"y":20,"v":0.48},{"x":25,"y":20,"v":0.475},
{"x":1,"y":21,"v":1.06},{"x":2,"y":21,"v":1.05},{"x":3,"y":21,"v":1.04},{"x":4,"y":21,"v":1.03},{"x":5,"y":21,"v":1.01},{"x":6,"y":21,"v":0.99},{"x":7,"y":21,"v":0.98},{"x":8,"y":21,"v":0.95},{"x":9,"y":21,"v":0.93},{"x":10,"y":21,"v":0.89},{"x":11,"y":21,"v":0.86},{"x":12,"y":21,"v":0.82},{"x":13,"y":21,"v":0.79},{"x":14,"y":21,"v":0.76},{"x":15,"y":21,"v":0.72},{"x":16,"y":21,"v":0.69},{"x":17,"y":21,"v":0.66},{"x":18,"y":21,"v":0.63},{"x":19,"y":21,"v":0.61},{"x":20,"y":21,"v":0.59},{"x":21,"y":21,"v":0.57},{"x":22,"y":21,"v":0.55},{"x":23,"y":21,"v":0.54},{"x":24,"y":21,"v":0.53},{"x":25,"y":21,"v":0.52},
{"x":1,"y":22,"v":1.12},{"x":2,"y":22,"v":1.12},{"x":3,"y":22,"v":1.1},{"x":4,"y":22,"v":1.09},{"x":5,"y":22,"v":1.08},{"x":6,"y":22,"v":1.06},{"x":7,"y":22,"v":1.04},{"x":8,"y":22,"v":1.02},{"x":9,"y":22,"v":0.99},{"x":10,"y":22,"v":0.96},{"x":11,"y":22,"v":0.93},{"x":12,"y":22,"v":0.89},{"x":13,"y":22,"v":0.85},{"x":14,"y":22,"v":0.81},{"x":15,"y":22,"v":0.77},{"x":16,"y":22,"v":0.74},{"x":17,"y":22,"v":0.7},{"x":18,"y":22,"v":0.67},{"x":19,"y":22,"v":0.65},{"x":20,"y":22,"v":0.63},{"x":21,"y":22,"v":0.61},{"x":22,"y":22,"v":0.59},{"x":23,"y":22,"v":0.58},{"x":24,"y":22,"v":0.57},{"x":25,"y":22,"v":0.565},
{"x":1,"y":23,"v":1.16},{"x":2,"y":23,"v":1.16},{"x":3,"y":23,"v":1.15},{"x":4,"y":23,"v":1.14},{"x":5,"y":23,"v":1.13},{"x":6,"y":23,"v":1.12},{"x":7,"y":23,"v":1.1},{"x":8,"y":23,"v":1.08},{"x":9,"y":23,"v":1.05},{"x":10,"y":23,"v":1.02},{"x":11,"y":23,"v":0.99},{"x":12,"y":23,"v":0.95},{"x":13,"y":23,"v":0.91},{"x":14,"y":23,"v":0.87},{"x":15,"y":23,"v":0.83},{"x":16,"y":23,"v":0.79},{"x":17,"y":23,"v":0.75},{"x":18,"y":23,"v":0.72},{"x":19,"y":23,"v":0.69},{"x":20,"y":23,"v":0.66},{"x":21,"y":23,"v":0.64},{"x":22,"y":23,"v":0.62},{"x":23,"y":23,"v":0.61},{"x":24,"y":23,"v":0.6},{"x":25,"y":23,"v":0.6},
{"x":1,"y":24,"v":1.2},{"x":2,"y":24,"v":1.2},{"x":3,"y":24,"v":1.19},{"x":4,"y":24,"v":1.18},{"x":5,"y":24,"v":1.17},{"x":6,"y":24,"v":1.15},{"x":7,"y":24,"v":1.14},{"x":8,"y":24,"v":1.13},{"x":9,"y":24,"v":1.11},{"x":10,"y":24,"v":1.09},{"x":11,"y":24,"v":1.06},{"x":12,"y":24,"v":1.02},{"x":13,"y":24,"v":0.98},{"x":14,"y":24,"v":0.94},{"x":15,"y":24,"v":0.89},{"x":16,"y":24,"v":0.84},{"x":17,"y":24,"v":0.8},{"x":18,"y":24,"v":0.76},{"x":19,"y":24,"v":0.73},{"x":20,"y":24,"v":0.7},{"x":21,"y":24,"v":0.67},{"x":22,"y":24,"v":0.65},{"x":23,"y":24,"v":0.64},{"x":24,"y":24,"v":0.63},{"x":25,"y":24,"v":0.63},
{"x":1,"y":25,"v":1.25},{"x":2,"y":25,"v":1.24},{"x":3,"y":25,"v":1.22},{"x":4,"y":25,"v":1.21},{"x":5,"y":25,"v":1.2},{"x":6,"y":25,"v":1.19},{"x":7,"y":25,"v":1.18},{"x":8,"y":25,"v":1.17},{"x":9,"y":25,"v":1.15},{"x":10,"y":25,"v":1.12},{"x":11,"y":25,"v":1.09},{"x":12,"y":25,"v":1.06},{"x":13,"y":25,"v":1.01},{"x":14,"y":25,"v":0.96},{"x":15,"y":25,"v":0.91},{"x":16,"y":25,"v":0.87},{"x":17,"y":25,"v":0.83},{"x":18,"y":25,"v":0.79},{"x":19,"y":25,"v":0.76},{"x":20,"y":25,"v":0.73},{"x":21,"y":25,"v":0.7},{"x":22,"y":25,"v":0.67},{"x":23,"y":25,"v":0.66},{"x":24,"y":25,"v":0.65},{"x":25,"y":25,"v":0.64}
]
}
}
